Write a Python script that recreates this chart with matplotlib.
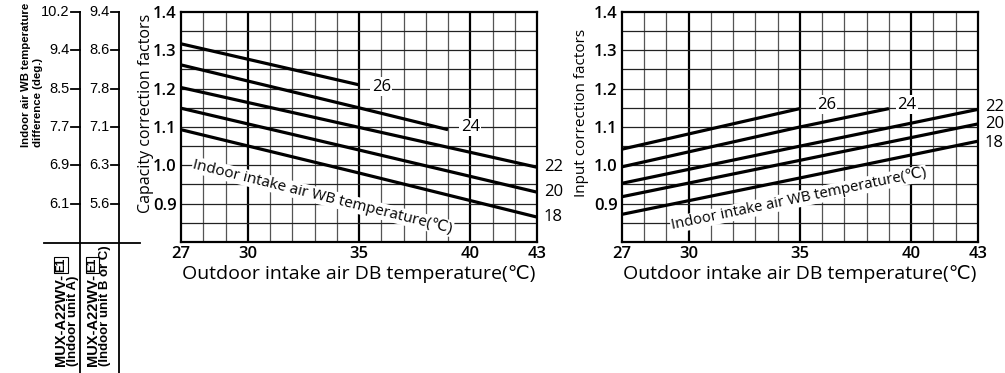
import matplotlib.pyplot as plt
from matplotlib import font_manager
from matplotlib.transforms import blended_transform_factory
from matplotlib.lines import Line2D

# ---- data ----
wb_temps = [26, 24, 22, 20, 18]

# capacity correction (left chart)
cap_x = {26: [27, 35], 24: [27, 35, 39], 22: [27, 35, 43], 20: [27, 35, 43], 18: [27, 35, 43]}
cap_y = {26: [1.317, 1.210], 24: [1.262, 1.150, 1.093], 22: [1.203, 1.099, 0.995],
         20: [1.149, 1.040, 0.930], 18: [1.093, 0.980, 0.865]}

# input correction (right chart)
inp_x = {26: [27, 35], 24: [27, 35, 39], 22: [27, 35, 43], 20: [27, 35, 43], 18: [27, 35, 43]}
inp_y = {26: [1.042, 1.148], 24: [0.996, 1.100, 1.148], 22: [0.953, 1.050, 1.146],
         20: [0.918, 1.013, 1.108], 18: [0.872, 0.967, 1.063]}

x_ticks = [27, 30, 35, 40, 43]
y_ticks = [1.4, 1.3, 1.2, 1.1, 1.0, 0.9]

# indoor air WB temperature difference table
diff_unit_a = ['10.2', '9.4', '8.5', '7.7', '6.9', '6.1']
diff_unit_bc = ['9.4', '8.6', '7.8', '7.1', '6.3', '5.6']

# label positions for curves (x, y)
cap_lbl = {26: (36.0, 1.205), 24: (40.0, 1.100)}
inp_lbl = {26: (36.2, 1.158), 24: (39.8, 1.158)}
cap_end = {22: 0.995, 20: 0.930, 18: 0.865}
inp_end = {22: 1.153, 20: 1.107, 18: 1.059}

FONT = ['Open Sans', 'DejaVu Sans']
TFONT = ['Liberation Sans', 'DejaVu Sans']
installed = {f.name for f in font_manager.fontManager.ttflist}
if 'Liberation Sans Narrow' in installed:
    NFONT, nsize = ['Liberation Sans Narrow', 'DejaVu Sans'], 9.6
else:
    NFONT, nsize = TFONT, 8.2
plt.rcParams['font.family'] = FONT

fig = plt.figure(figsize=(10.05, 3.73), dpi=100)
W, H = 1005, 373

def fx(px):
    return px / W

def fy(py):
    return 1 - py / H

ax1 = fig.add_axes([fx(181), fy(242), fx(537) - fx(181), fy(12) - fy(242)])
ax2 = fig.add_axes([fx(621.7), fy(242), fx(978) - fx(621.7), fy(12) - fy(242)])


def style(ax):
    ax.set_xlim(27, 43)
    ax.set_ylim(0.8, 1.4)
    for v in range(28, 43):
        if v in (30, 35, 40):
            ax.axvline(v, color='black', lw=1.6, zorder=1)
        else:
            ax.axvline(v, color='#555555', lw=0.9, zorder=1)
    for k in range(1, 12):
        ax.axhline(0.8 + 0.05 * k, color='#222222', lw=0.9, zorder=1)
    ax.set_xticks(x_ticks)
    ax.set_xticklabels([str(t) for t in x_ticks], fontweight='semibold')
    ax.set_yticks(y_ticks)
    ax.set_yticklabels(['%.1f' % t for t in y_ticks], fontweight='semibold')
    ax.tick_params(length=0, labelsize=12, pad=3)
    for s in ax.spines.values():
        s.set_linewidth(1.6)
    ax.set_xlabel('Outdoor intake air DB temperature(℃)', fontsize=14, labelpad=2)


style(ax1)
style(ax2)

for t in wb_temps:
    ax1.plot(cap_x[t], cap_y[t], color='black', lw=2.3, zorder=3, solid_capstyle='butt')
    ax2.plot(inp_x[t], inp_y[t], color='black', lw=2.3, zorder=3, solid_capstyle='butt')

wbox = dict(facecolor='white', edgecolor='none', pad=1.0)
for t, (x, y) in cap_lbl.items():
    ax1.text(x, y, str(t), fontsize=12, ha='center', va='center', bbox=wbox, zorder=4)
for t, (x, y) in inp_lbl.items():
    ax2.text(x, y, str(t), fontsize=12, ha='center', va='center', bbox=wbox, zorder=4)
for t, y in cap_end.items():
    ax1.text(43.3, y, str(t), fontsize=12, ha='left', va='center', clip_on=False)
for t, y in inp_end.items():
    ax2.text(43.3, y, str(t), fontsize=12, ha='left', va='center', clip_on=False)

tbox = dict(facecolor='white', edgecolor='none', pad=0.5)
ax1.text(33.37, 0.918, 'Indoor intake air WB temperature(℃)', fontsize=11, rotation=-14,
         rotation_mode='anchor', ha='center', va='center', bbox=tbox, zorder=4)
ax2.text(34.95, 0.912, 'Indoor intake air WB temperature(℃)', fontsize=10.7, rotation=11.8,
         rotation_mode='anchor', ha='center', va='center', bbox=tbox, zorder=4)

fig.text(fx(146), fy(113), 'Capacity correction factors', rotation=90, fontsize=11.5,
         ha='center', va='center')
fig.text(fx(581), fy(113), 'Input correction factors', rotation=90, fontsize=11,
         ha='center', va='center')

# ---- WB temperature difference table on the left ----
tr = blended_transform_factory(fig.transFigure, ax1.transData)
for xcol in (80, 118.5):
    fig.add_artist(Line2D([fx(xcol), fx(xcol)], [fy(12), 0], color='black', lw=1.3))
fig.add_artist(Line2D([fx(44), fx(140)], [fy(243), fy(243)], color='black', lw=1.3))
for lv, a, b in zip(y_ticks, diff_unit_a, diff_unit_bc):
    fig.add_artist(Line2D([fx(71), fx(80)], [lv, lv], color='black', lw=1.3, transform=tr))
    fig.add_artist(Line2D([fx(110.5), fx(118.5)], [lv, lv], color='black', lw=1.3, transform=tr))
    fig.text(fx(69.5), lv, a, transform=tr, family=TFONT, fontsize=10.5, ha='right', va='center')
    fig.text(fx(109.5), lv, b, transform=tr, family=TFONT, fontsize=10.5, ha='right', va='center')

fig.text(fx(26), fy(147), 'Indoor air WB temperature', rotation=90, family=NFONT,
         fontsize=nsize, fontweight='bold', ha='center', va='bottom')
fig.text(fx(38), fy(147), 'difference (deg.)', rotation=90, family=NFONT,
         fontsize=nsize, fontweight='bold', ha='center', va='bottom')

fig.canvas.draw()
rend = fig.canvas.get_renderer()
for xa, xb, l2 in ((61, 73, '(Indoor unit A)'), (92.5, 105, '(Indoor unit B or C)')):
    t1 = fig.text(fx(xa), fy(366), 'MUX-A22WV-', rotation=90, family=TFONT,
                  fontsize=10.5, fontweight='bold', ha='center', va='bottom')
    top = t1.get_window_extent(rend).y1
    fig.text(fx(xa), (top + 2) / fig.bbox.height, 'E1', rotation=90, family=TFONT, fontsize=8.5,
             fontweight='bold', ha='center', va='bottom',
             bbox=dict(facecolor='white', edgecolor='black', lw=0.8, pad=0.5))
    fig.text(fx(xb), fy(366), l2, rotation=90, family=TFONT,
             fontsize=9.5, fontweight='bold', ha='center', va='bottom')

fig.savefig('out.png', dpi=100)
